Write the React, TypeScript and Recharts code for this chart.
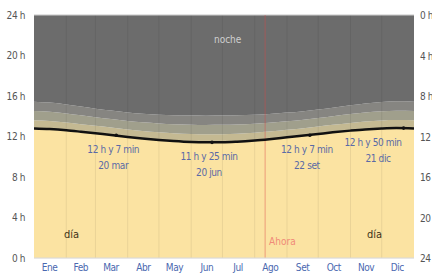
import React from "react";
import {
  Area,
  CartesianGrid,
  ComposedChart,
  Line,
  ReferenceDot,
  ReferenceLine,
  XAxis,
  YAxis,
} from "recharts";

// day of year for each sample
const days = [0, 15, 31, 45, 59, 74, 90, 104, 120, 134, 151, 165, 181, 195, 212, 226, 243, 257, 273, 287, 304, 318, 334, 348, 365];
// hours of daylight
const daylight = [12.8, 12.74, 12.62, 12.47, 12.31, 12.15, 11.96, 11.81, 11.66, 11.55, 11.45, 11.42, 11.43, 11.49, 11.61, 11.74, 11.92, 12.07, 12.25, 12.41, 12.58, 12.7, 12.79, 12.83, 12.8];
// twilight hours (morning + evening)
const civil = [0.8, 0.79, 0.77, 0.75, 0.74, 0.73, 0.73, 0.74, 0.76, 0.78, 0.8, 0.8, 0.8, 0.79, 0.77, 0.75, 0.74, 0.73, 0.73, 0.74, 0.76, 0.78, 0.8, 0.8, 0.8];
const nautical = [0.92, 0.91, 0.89, 0.87, 0.85, 0.84, 0.84, 0.85, 0.87, 0.89, 0.91, 0.92, 0.92, 0.91, 0.89, 0.87, 0.85, 0.84, 0.84, 0.85, 0.87, 0.89, 0.91, 0.92, 0.92];
const astronomical = [0.92, 0.91, 0.89, 0.87, 0.85, 0.84, 0.84, 0.85, 0.87, 0.89, 0.91, 0.92, 0.92, 0.91, 0.89, 0.87, 0.85, 0.84, 0.84, 0.85, 0.87, 0.89, 0.91, 0.92, 0.92];

const months = ["Ene", "Feb", "Mar", "Abr", "May", "Jun", "Jul", "Ago", "Set", "Oct", "Nov", "Dic"];
const monthMids = [15, 45, 74, 105, 135, 166, 196, 227, 258, 288, 319, 349];
const monthStarts = [31, 59, 90, 120, 151, 181, 212, 243, 273, 304, 334];
const hourTicks = [0, 4, 8, 12, 16, 20, 24];

const markerDays = [79, 171, 265, 355];
const markerHours = [12.12, 11.42, 12.12, 12.83];
const markerText = ["12 h y 7 min", "11 h y 25 min", "12 h y 7 min", "12 h y 50 min"];
const markerDates = ["20 mar", "20 jun", "22 set", "21 dic"];

const nowDay = 222;

const data = days.map((d, i) => ({
  day: d,
  light: daylight[i],
  civil: civil[i],
  nautical: nautical[i],
  astro: astronomical[i],
  night: 24 - daylight[i] - civil[i] - nautical[i] - astronomical[i],
}));

const FONT = "'DejaVu Sans Condensed', 'Liberation Sans Narrow', sans-serif";
const narrow = { fontStretch: "condensed" as const };

const MarkerLabel = (props: any) => {
  const { viewBox, idx } = props;
  const x = viewBox.x + (viewBox.width || 0) / 2;
  const y = viewBox.y + (viewBox.height || 0) / 2;
  const atEnd = idx === 3;
  return (
    <text
      y={y}
      textAnchor={atEnd ? "end" : "middle"}
      fill="#5a6aa6"
      fontSize={10}
      fontFamily={FONT}
      style={{ ...narrow, letterSpacing: -0.4 }}
    >
      <tspan x={atEnd ? x - 2 : x - 3} dy={18}>{markerText[idx]}</tspan>
      <tspan x={atEnd ? x - 13 : x - 3} dy={16}>{markerDates[idx]}</tspan>
    </text>
  );
};

const RightTick = (props: any) => {
  const { x, y, payload } = props;
  return (
    <text
      x={x - 3}
      y={y}
      dy={4}
      textAnchor="start"
      fill="#555"
      fontSize={10}
      fontFamily={FONT}
      style={{ ...narrow, letterSpacing: -0.4 }}
    >
      {`${payload.value} h`}
    </text>
  );
};

const tickStyle = { fontSize: 10, fontFamily: FONT, style: { ...narrow, letterSpacing: -0.4 } };

export default function App() {
  return (
    <div style={{ position: "absolute", left: 0, top: 0 }}>
      <ComposedChart
        width={432}
        height={273}
        data={data}
        margin={{ top: 15, right: 0, bottom: 0, left: 0 }}
      >
        <XAxis
          dataKey="day"
          type="number"
          domain={[0, 365]}
          ticks={monthMids}
          tickFormatter={(v) => months[monthMids.indexOf(v)]}
          tick={{ fill: "#4a68b0", ...tickStyle }}
          tickLine={false}
          axisLine={{ stroke: "#d8d8d8" }}
          height={15}
          tickMargin={0}
          interval={0}
        />
        <YAxis
          yAxisId="left"
          domain={[0, 24]}
          ticks={hourTicks}
          tickFormatter={(v) => `${v} h`}
          tick={{ fill: "#555", ...tickStyle }}
          tickLine={false}
          axisLine={false}
          width={34}
          tickMargin={3}
          interval={0}
        />
        <YAxis
          yAxisId="right"
          orientation="right"
          reversed
          domain={[0, 24]}
          ticks={hourTicks}
          tick={<RightTick />}
          tickLine={false}
          axisLine={false}
          width={18}
          tickMargin={3}
          interval={0}
        />
        <Area yAxisId="left" type="monotone" dataKey="light" stackId="s" stroke="none" fill="#fbe3a2" fillOpacity={1} isAnimationActive={false} />
        <Area yAxisId="left" type="monotone" dataKey="civil" stackId="s" stroke="none" fill="#c4b992" fillOpacity={1} isAnimationActive={false} />
        <Area yAxisId="left" type="monotone" dataKey="nautical" stackId="s" stroke="none" fill="#a09f8c" fillOpacity={1} isAnimationActive={false} />
        <Area yAxisId="left" type="monotone" dataKey="astro" stackId="s" stroke="none" fill="#868581" fillOpacity={1} isAnimationActive={false} />
        <Area yAxisId="left" type="monotone" dataKey="night" stackId="s" stroke="none" fill="#6c6c6c" fillOpacity={1} isAnimationActive={false} />
        <Line yAxisId="right" type="monotone" dataKey="light" stroke="none" dot={false} legendType="none" isAnimationActive={false} />
        <CartesianGrid yAxisId="left" vertical={false} stroke="rgba(0,0,0,0.07)" />
        {monthStarts.map((d) => (
          <ReferenceLine key={d} yAxisId="left" x={d} stroke="rgba(0,0,0,0.07)" />
        ))}
        <ReferenceLine yAxisId="left" y={24} stroke="#cfcfcf" />
        <ReferenceLine
          yAxisId="left"
          x={nowDay}
          stroke="rgba(220,70,70,0.45)"
          label={{ value: "Ahora", position: "insideBottomLeft", fill: "#f08a78", fontSize: 10, fontFamily: FONT, offset: 4, dy: -9, style: narrow }}
        />
        <Line yAxisId="left" type="monotone" dataKey="light" stroke="#111" strokeWidth={2.5} dot={false} isAnimationActive={false} />
        {markerDays.map((d, i) => (
          <ReferenceDot
            key={d}
            yAxisId="left"
            x={d}
            y={markerHours[i]}
            r={1.8}
            fill="#111"
            stroke="none"
            label={<MarkerLabel idx={i} />}
          />
        ))}
        <ReferenceDot
          yAxisId="left"
          x={186}
          y={21.6}
          r={0}
          label={{ value: "noche", fill: "#cfcfcf", fontSize: 10, fontFamily: FONT, style: narrow }}
        />
        <ReferenceDot
          yAxisId="left"
          x={36}
          y={2.4}
          r={0}
          label={{ value: "día", fill: "#3e3218", fontSize: 11, fontFamily: FONT, style: narrow }}
        />
        <ReferenceDot
          yAxisId="left"
          x={327}
          y={2.4}
          r={0}
          label={{ value: "día", fill: "#3e3218", fontSize: 11, fontFamily: FONT, style: narrow }}
        />
      </ComposedChart>
    </div>
  );
}
